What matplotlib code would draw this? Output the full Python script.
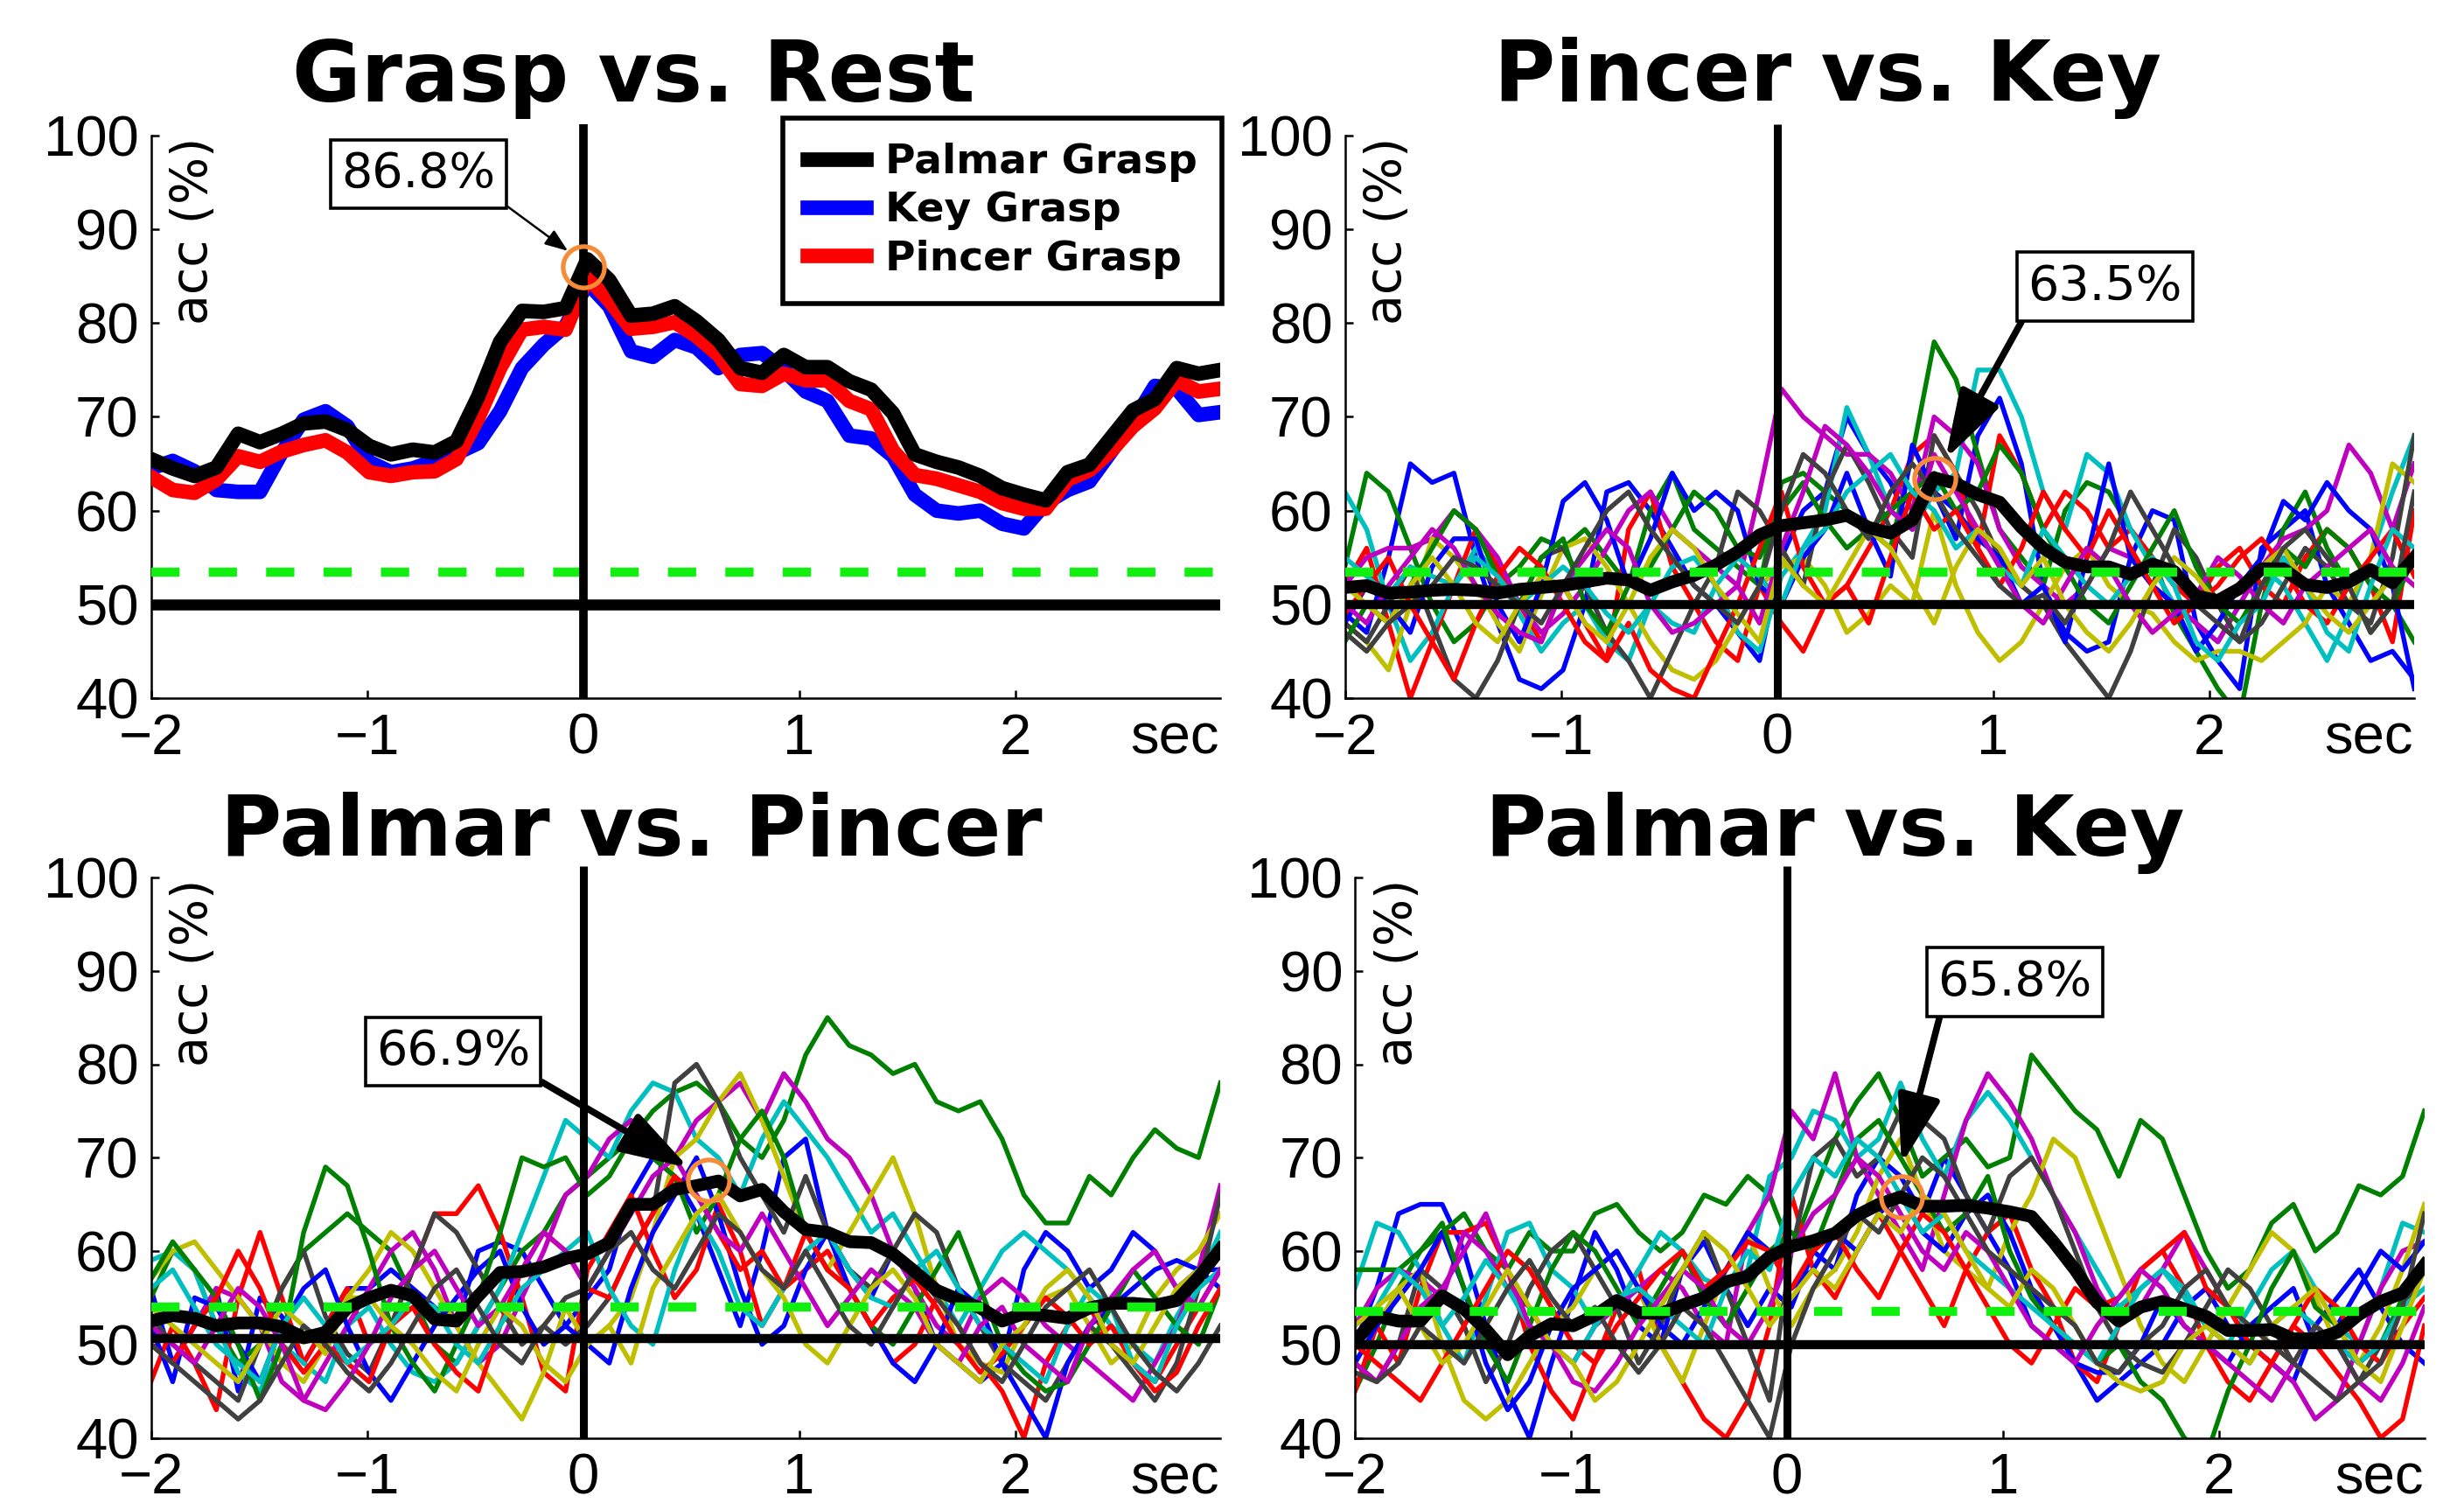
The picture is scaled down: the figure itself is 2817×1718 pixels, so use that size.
import numpy as np
import matplotlib
matplotlib.use("Agg")
import matplotlib.pyplot as plt

plt.rcParams['font.family'] = ['Liberation Sans', 'DejaVu Sans']
plt.rcParams['axes.unicode_minus'] = True

W, H = 2817, 1718
fig = plt.figure(figsize=(W / 100, H / 100), dpi=100)

# ---------------- data ----------------
t = np.linspace(-2.0, 2.95, 50)          # seconds
xticks = [-2, -1, 0, 1, 2]
yticks = [40, 50, 60, 70, 80, 90, 100]

# Grasp vs. Rest
palmar_grasp = [65.5, 64.5, 63.7, 64.6, 68.2, 67.3, 68.2, 69.3, 69.5, 68.6,
                66.9, 66.0, 66.5, 66.2, 67.4, 72.2, 78.0, 81.3, 81.2, 81.6,
                86.8, 84.6, 80.8, 81.0, 81.8, 80.2, 78.2, 75.2, 74.7, 76.6,
                75.3, 75.3, 73.8, 72.9, 70.4, 66.0, 65.2, 64.6, 63.7, 62.4,
                61.7, 61.1, 64.1, 64.9, 67.8, 70.7, 71.9, 75.2, 74.6, 75.0]
key_grasp = [64.5, 65.3, 64.2, 62.2, 62.0, 62.0, 66.2, 69.7, 70.6, 69.0,
             65.2, 64.1, 64.5, 65.3, 66.1, 67.2, 70.6, 75.2, 77.7, 79.7,
             84.3, 81.8, 77.0, 76.4, 78.2, 77.4, 75.2, 76.6, 76.8, 75.0,
             72.7, 71.7, 68.0, 67.7, 65.8, 61.7, 60.0, 59.7, 60.0, 58.6,
             58.1, 60.8, 62.2, 63.1, 66.3, 69.5, 73.3, 73.0, 70.2, 70.5]
pincer_grasp = [63.6, 62.2, 61.9, 63.3, 65.8, 65.2, 66.3, 67.0, 67.5, 66.2,
                64.1, 63.7, 64.1, 64.2, 65.5, 69.9, 75.2, 79.3, 79.6, 79.3,
                84.9, 82.4, 79.4, 79.6, 80.1, 78.6, 76.6, 73.5, 73.3, 74.6,
                73.9, 73.9, 71.7, 70.8, 66.4, 63.8, 63.4, 62.7, 62.0, 60.8,
                60.2, 60.2, 63.3, 64.3, 66.4, 69.0, 70.9, 73.9, 72.7, 73.0]

# Pincer vs. Key
pincer_key_mean = [51.8, 52.0, 51.2, 51.3, 51.5, 51.6, 51.5, 51.2, 51.6, 51.8,
                   52.0, 52.4, 52.8, 52.6, 51.5, 52.4, 53.1, 54.2, 55.6, 57.4,
                   58.4, 58.7, 59.0, 59.5, 58.2, 57.6, 59.0, 63.5, 62.9, 61.7,
                   60.9, 58.2, 56.0, 54.5, 54.0, 54.0, 53.2, 54.3, 53.5, 50.9,
                   50.4, 51.7, 53.8, 53.8, 52.1, 51.8, 52.4, 53.7, 52.3, 55.0]
pincer_key_subjects = [
    [49, 47, 55, 65, 63, 64, 55, 48, 42, 41, 43, 50, 62, 63, 60, 56, 52, 50, 47, 44,
     55, 60, 62, 70, 66, 63, 58, 62, 57, 68, 72, 65, 52, 47, 45, 46, 55, 60, 59, 48,
     44, 41, 56, 58, 60, 52, 48, 44, 45, 42],
    [54, 64, 62, 56, 50, 46, 48, 52, 54, 57, 56, 58, 55, 52, 60, 64, 58, 56, 54, 52,
     63, 64, 62, 60, 58, 56, 66, 78, 74, 66, 58, 55, 52, 60, 63, 62, 58, 55, 49, 45,
     41, 38, 50, 58, 62, 56, 52, 47, 50, 46],
    [52, 56, 48, 40, 46, 52, 58, 54, 50, 46, 52, 48, 44, 58, 62, 54, 50, 46, 44, 52,
     48, 45, 50, 52, 56, 60, 66, 68, 64, 56, 68, 64, 58, 62, 60, 56, 58, 55, 52, 50,
     54, 56, 52, 50, 55, 58, 56, 52, 46, 60],
    [62, 58, 50, 44, 47, 52, 56, 53, 49, 45, 48, 50, 46, 44, 50, 54, 55, 52, 47, 45,
     53, 56, 60, 71, 66, 60, 58, 62, 64, 75, 75, 70, 62, 58, 66, 64, 58, 54, 50, 48,
     46, 50, 54, 52, 48, 44, 49, 55, 62, 68],
    [52, 55, 56, 56, 57, 60, 58, 55, 50, 47, 49, 52, 56, 60, 62, 58, 56, 54, 52, 62,
     73, 70, 68, 66, 66, 64, 60, 70, 68, 65, 58, 54, 52, 50, 52, 56, 55, 52, 50, 48,
     46, 50, 54, 57, 58, 60, 67, 64, 58, 65],
    [48, 46, 43, 50, 57, 55, 52, 48, 45, 51, 56, 57, 54, 50, 46, 43, 42, 44, 48, 52,
     54, 55, 52, 47, 49, 52, 50, 60, 52, 47, 44, 46, 50, 54, 56, 52, 50, 49, 46, 44,
     45, 45, 44, 46, 48, 52, 50, 55, 65, 63],
    [48, 46, 50, 54, 48, 42, 40, 44, 50, 55, 56, 52, 47, 44, 40, 45, 50, 54, 62, 60,
     56, 52, 62, 67, 63, 58, 55, 68, 64, 60, 55, 52, 50, 46, 43, 40, 45, 52, 58, 55,
     50, 46, 48, 52, 56, 54, 50, 48, 55, 68],
    [48, 52, 50, 47, 54, 57, 57, 50, 46, 52, 61, 63, 59, 52, 57, 64, 60, 62, 60, 52,
     50, 55, 58, 64, 58, 53, 67, 62, 60, 57, 55, 50, 52, 46, 55, 65, 55, 52, 50, 45,
     48, 52, 55, 61, 59, 63, 60, 58, 52, 41],
    [46, 50, 48, 52, 56, 60, 58, 53, 50, 55, 57, 50, 47, 52, 54, 58, 62, 60, 56, 55,
     60, 63, 59, 56, 58, 60, 62, 64, 60, 62, 67, 64, 58, 54, 50, 48, 52, 56, 60, 54,
     50, 48, 52, 56, 54, 58, 56, 52, 50, 55],
    [49, 52, 55, 50, 46, 42, 48, 53, 56, 54, 50, 46, 44, 48, 43, 41, 40, 45, 50, 56,
     62, 54, 50, 52, 48, 55, 62, 58, 60, 56, 52, 56, 62, 58, 55, 60, 56, 52, 48, 50,
     52, 55, 57, 54, 50, 48, 52, 55, 58, 53],
    [55, 53, 51, 54, 53, 52, 55, 53, 50, 52, 54, 52, 49, 47, 50, 48, 47, 52, 55, 53,
     50, 56, 58, 62, 64, 66, 62, 60, 56, 58, 54, 52, 58, 55, 52, 50, 53, 55, 52, 46,
     44, 48, 50, 55, 52, 47, 45, 52, 58, 56],
    [50, 48, 52, 55, 58, 56, 52, 49, 47, 46, 52, 55, 58, 56, 50, 47, 48, 50, 52, 48,
     56, 62, 69, 67, 64, 60, 58, 66, 62, 58, 54, 50, 48, 52, 56, 54, 50, 47, 49, 51,
     55, 53, 50, 48, 52, 54, 56, 58, 54, 52],
    [52, 50, 48, 52, 55, 52, 48, 46, 50, 53, 52, 48, 46, 50, 55, 58, 56, 52, 49, 46,
     55, 52, 50, 54, 58, 56, 52, 48, 54, 58, 56, 52, 55, 50, 47, 45, 48, 52, 55, 53,
     50, 52, 54, 56, 52, 49, 47, 50, 53, 55],
    [47, 45, 48, 50, 52, 55, 54, 52, 50, 48, 52, 56, 60, 62, 58, 55, 52, 50, 48, 52,
     60, 66, 64, 60, 57, 62, 65, 62, 58, 55, 52, 50, 51, 48, 52, 56, 62, 58, 54, 50,
     48, 46, 52, 56, 58, 55, 52, 47, 50, 62],
]

# Palmar vs. Pincer
palmar_pincer_mean = [52.5, 53.1, 52.8, 52.0, 52.3, 52.3, 51.9, 50.7, 51.3, 53.9,
                      55.0, 55.8, 55.2, 52.7, 52.5, 55.2, 57.7, 57.8, 58.3, 59.2,
                      59.7, 60.9, 65.0, 65.0, 66.6, 67.0, 67.5, 65.9, 66.6, 64.2,
                      62.3, 62.0, 61.0, 60.9, 59.7, 57.8, 55.8, 54.8, 53.9, 52.5,
                      53.3, 53.1, 52.8, 53.9, 54.4, 54.4, 54.2, 54.7, 57.2, 60.2]
palmar_pincer_subjects = [
    [56, 48, 52, 56, 45, 55, 53, 48, 52, 56, 56, 58, 56, 54, 52, 60, 61, 60, 56, 52,
     55, 58, 66, 70, 68, 64, 58, 52, 60, 70, 72, 62, 58, 55, 60, 56, 50, 48, 46, 48,
     58, 62, 60, 56, 58, 62, 60, 56, 58, 58],
    [55, 60, 58, 52, 48, 50, 56, 60, 62, 64, 62, 60, 55, 50, 48, 52, 56, 60, 62, 66,
     68, 70, 72, 75, 77, 78, 76, 72, 70, 74, 81, 85, 82, 81, 79, 80, 76, 75, 76, 72,
     66, 63, 63, 68, 66, 70, 73, 71, 70, 78],
    [46, 52, 48, 43, 55, 62, 55, 48, 52, 56, 50, 52, 58, 64, 64, 67, 62, 55, 47, 45,
     58, 62, 66, 60, 55, 58, 65, 60, 52, 56, 58, 60, 56, 52, 48, 50, 55, 52, 48, 45,
     40, 48, 52, 54, 50, 48, 46, 50, 54, 58],
    [59, 60, 58, 52, 47, 45, 50, 48, 46, 52, 54, 50, 47, 46, 48, 52, 56, 62, 68, 74,
     72, 70, 75, 78, 77, 72, 70, 66, 72, 76, 73, 70, 66, 62, 64, 60, 56, 52, 56, 60,
     62, 60, 58, 55, 52, 50, 48, 53, 57, 62],
    [50, 48, 52, 56, 55, 52, 46, 44, 48, 52, 56, 60, 62, 58, 52, 48, 50, 55, 60, 66,
     68, 72, 74, 72, 70, 74, 76, 78, 74, 79, 76, 72, 70, 66, 60, 56, 52, 50, 55, 57,
     55, 52, 50, 48, 46, 44, 48, 52, 58, 67],
    [57, 60, 61, 58, 55, 52, 48, 46, 50, 55, 58, 62, 60, 56, 52, 48, 45, 42, 47, 54,
     50, 52, 55, 62, 70, 72, 76, 79, 74, 68, 62, 58, 62, 66, 70, 64, 56, 50, 48, 47,
     52, 55, 56, 52, 48, 50, 55, 58, 60, 64],
    [53, 50, 48, 46, 44, 50, 56, 60, 53, 49, 47, 52, 58, 64, 62, 58, 54, 50, 52, 50,
     52, 55, 60, 64, 78, 80, 76, 70, 66, 62, 68, 62, 58, 56, 60, 64, 62, 56, 52, 48,
     46, 44, 48, 52, 50, 47, 44, 48, 56, 66],
    [52, 46, 55, 54, 50, 46, 52, 56, 58, 52, 47, 44, 48, 52, 55, 58, 60, 54, 50, 52,
     50, 48, 56, 62, 66, 70, 64, 56, 50, 52, 58, 62, 56, 52, 48, 46, 50, 56, 54, 48,
     44, 40, 48, 52, 54, 56, 58, 59, 58, 56],
    [57, 61, 58, 55, 50, 44, 50, 62, 69, 67, 60, 52, 48, 45, 50, 55, 62, 70, 69, 70,
     66, 68, 72, 70, 68, 62, 66, 72, 75, 70, 62, 58, 56, 52, 50, 54, 58, 62, 56, 50,
     47, 45, 46, 50, 54, 58, 55, 52, 50, 56],
    [50, 48, 52, 55, 60, 56, 50, 47, 50, 48, 46, 52, 54, 50, 47, 45, 52, 58, 62, 60,
     56, 55, 60, 64, 68, 66, 62, 58, 60, 56, 62, 58, 56, 52, 55, 57, 54, 50, 47, 49,
     52, 55, 53, 50, 52, 48, 45, 47, 52, 56],
    [56, 58, 54, 50, 48, 46, 52, 55, 52, 48, 50, 52, 55, 54, 50, 48, 52, 56, 58, 60,
     62, 56, 52, 50, 58, 64, 60, 54, 52, 56, 60, 62, 58, 55, 54, 58, 60, 56, 52, 50,
     48, 46, 52, 56, 54, 48, 46, 52, 56, 58],
    [52, 50, 48, 52, 56, 54, 50, 44, 43, 46, 50, 55, 58, 60, 56, 52, 54, 58, 62, 60,
     56, 60, 64, 68, 70, 66, 62, 60, 64, 60, 56, 52, 55, 58, 56, 54, 50, 48, 52, 54,
     50, 48, 46, 52, 55, 58, 60, 56, 54, 58],
    [54, 52, 50, 48, 46, 50, 54, 52, 49, 55, 55, 52, 50, 47, 45, 50, 54, 52, 48, 46,
     50, 52, 48, 56, 60, 64, 66, 62, 58, 55, 50, 48, 52, 56, 58, 55, 50, 48, 46, 50,
     52, 56, 58, 55, 50, 48, 52, 56, 58, 60],
    [50, 48, 46, 44, 42, 44, 48, 52, 50, 47, 45, 48, 52, 56, 58, 54, 50, 48, 52, 55,
     56, 60, 62, 58, 56, 60, 64, 62, 58, 56, 60, 56, 52, 50, 54, 58, 55, 52, 48, 46,
     50, 54, 56, 58, 54, 50, 47, 45, 48, 52],
]

# Palmar vs. Key
palmar_key_mean = [50.3, 53.0, 52.5, 52.5, 55.2, 53.8, 51.6, 48.9, 50.9, 52.2,
                   52.0, 53.1, 54.7, 53.4, 53.3, 54.2, 55.0, 56.7, 57.3, 59.4,
                   60.5, 61.1, 61.9, 63.8, 65.0, 65.8, 64.8, 64.8, 64.9, 64.6,
                   64.2, 63.7, 61.0, 58.0, 54.5, 52.5, 54.0, 54.6, 53.8, 53.0,
                   51.5, 51.5, 51.6, 50.6, 50.6, 51.3, 53.2, 54.6, 55.5, 58.5]
palmar_key_subjects = [
    [50, 56, 64, 65, 65, 60, 52, 45, 40, 48, 55, 62, 58, 52, 50, 58, 61, 56, 52, 56,
     54, 60, 58, 66, 70, 68, 64, 70, 66, 62, 58, 52, 50, 48, 44, 46, 48, 50, 54, 56,
     52, 50, 48, 46, 52, 55, 58, 54, 50, 48],
    [45, 50, 56, 60, 62, 64, 60, 58, 62, 60, 60, 64, 65, 62, 60, 62, 66, 65, 68, 66,
     60, 66, 72, 76, 79, 74, 68, 70, 72, 69, 70, 81, 78, 75, 73, 68, 74, 72, 66, 60,
     56, 58, 63, 65, 60, 62, 67, 66, 68, 75],
    [45, 52, 48, 56, 62, 62, 63, 58, 50, 45, 42, 48, 54, 58, 50, 46, 42, 40, 44, 52,
     66, 58, 55, 60, 64, 60, 56, 52, 58, 62, 64, 58, 54, 48, 46, 52, 58, 60, 56, 50,
     46, 44, 48, 52, 50, 47, 44, 40, 42, 52],
    [56, 63, 62, 58, 52, 48, 55, 62, 63, 58, 56, 52, 54, 58, 62, 60, 57, 56, 58, 68,
     70, 75, 74, 70, 72, 78, 72, 68, 74, 77, 74, 70, 66, 62, 58, 54, 56, 58, 56, 52,
     50, 54, 58, 60, 56, 52, 50, 56, 63, 62],
    [52, 56, 58, 57, 55, 62, 60, 56, 54, 50, 48, 52, 54, 56, 58, 56, 52, 50, 62, 66,
     75, 72, 79, 70, 66, 62, 58, 66, 74, 79, 76, 72, 66, 62, 56, 52, 54, 58, 62, 58,
     54, 50, 48, 46, 42, 44, 50, 56, 60, 61],
    [48, 52, 56, 58, 50, 44, 42, 44, 48, 52, 54, 58, 60, 56, 50, 46, 52, 58, 62, 56,
     52, 56, 58, 62, 68, 72, 66, 60, 58, 56, 62, 66, 72, 70, 64, 58, 52, 48, 46, 50,
     54, 58, 62, 60, 55, 50, 48, 52, 58, 65],
    [48, 46, 50, 58, 56, 52, 46, 50, 56, 60, 62, 58, 54, 48, 52, 58, 62, 56, 50, 44,
     60, 70, 72, 68, 70, 75, 74, 72, 66, 62, 68, 70, 66, 60, 54, 50, 48, 47, 50, 54,
     58, 56, 52, 48, 46, 44, 46, 50, 54, 58],
    [48, 52, 55, 58, 62, 56, 48, 43, 46, 52, 56, 58, 60, 56, 52, 50, 54, 58, 62, 60,
     56, 58, 62, 60, 64, 66, 62, 60, 64, 66, 62, 56, 52, 48, 47, 47, 50, 55, 52, 50,
     48, 52, 54, 56, 50, 52, 56, 60, 58, 61],
    [58, 58, 58, 60, 63, 56, 50, 46, 52, 58, 62, 60, 56, 52, 56, 60, 55, 52, 56, 60,
     62, 60, 66, 72, 74, 70, 66, 62, 64, 68, 60, 55, 52, 50, 48, 50, 46, 44, 40, 38,
     45, 50, 56, 60, 54, 52, 48, 50, 55, 58],
    [50, 48, 46, 44, 48, 52, 56, 60, 58, 54, 50, 48, 52, 55, 58, 60, 56, 58, 61, 60,
     56, 60, 62, 58, 55, 60, 64, 62, 58, 54, 50, 48, 52, 56, 54, 55, 58, 60, 62, 56,
     54, 50, 48, 52, 56, 54, 50, 48, 52, 55],
    [50, 54, 58, 56, 52, 55, 59, 56, 52, 50, 48, 52, 55, 56, 54, 52, 50, 56, 60, 58,
     66, 70, 68, 72, 70, 66, 62, 64, 60, 58, 56, 54, 52, 50, 48, 52, 56, 58, 55, 52,
     50, 48, 52, 54, 52, 50, 48, 50, 54, 56],
    [48, 46, 50, 54, 56, 60, 64, 58, 52, 50, 46, 45, 48, 52, 55, 58, 56, 52, 50, 54,
     60, 64, 66, 70, 68, 64, 60, 58, 62, 60, 56, 52, 50, 48, 52, 55, 58, 56, 52, 50,
     48, 46, 44, 48, 52, 50, 46, 44, 48, 54],
    [52, 54, 56, 52, 48, 50, 54, 58, 54, 50, 48, 44, 46, 50, 54, 58, 62, 60, 56, 52,
     55, 58, 56, 60, 64, 62, 66, 64, 60, 56, 54, 58, 56, 52, 48, 46, 45, 46, 50, 52,
     50, 48, 52, 54, 56, 52, 48, 46, 52, 58],
    [47, 46, 48, 52, 50, 48, 52, 56, 59, 55, 52, 54, 50, 47, 50, 54, 52, 48, 44, 40,
     50, 56, 60, 64, 62, 66, 70, 68, 64, 60, 58, 56, 54, 52, 48, 47, 50, 52, 56, 58,
     54, 52, 50, 48, 52, 50, 46, 48, 54, 64],
]

panel_titles = ['Grasp vs. Rest', 'Pincer vs. Key', 'Palmar vs. Pincer', 'Palmar vs. Key']
chance_level = [50.0, 50.0, 50.6, 50.0]
signif_level = [53.4, 53.4, 54.0, 53.5]
peak_t = [0.0, 0.73, 0.58, 0.53]
peak_val = [86.0, 63.4, 67.6, 65.8]
peak_text = ['86.8%', '63.5%', '66.9%', '65.8%']

# ---------------- styling / layout ----------------
subject_colors = [(0, 0, 1), (0, 0.5, 0), (1, 0, 0), (0, 0.75, 0.75),
                  (0.75, 0, 0.75), (0.75, 0.75, 0), (0.25, 0.25, 0.25)]
orange = (0.97, 0.55, 0.22)
lime = (0.06, 0.94, 0.06)

axes_pos = [[172.5, 798.0, 1222.7, 643.0],
            [1537.5, 798.0, 1222.7, 643.0],
            [172.5, 1643.5, 1222.7, 640.5],
            [1549.0, 1643.5, 1222.7, 640.5]]
title_xy = [(724.6, 116), (2089, 115), (721.4, 977.6), (2097.7, 977.6)]
box_xy = [(478.5, 199), (2406.7, 327.5), (518, 1202), (2303.7, 1122.7)]
box_relpos = [(1, 0), (0, 0), (1, 0), (0.03, 0)]
tip_xy = [(-0.07, 87.7), (0.78, 65.5), (0.49, 68.9), (0.53, 69.3)]

axes = []
for k in range(4):
    l, b, w, h = axes_pos[k]
    ax = fig.add_axes([l / W, 1 - b / H, w / W, h / H])
    axes.append(ax)
    ax.set_xlim(-2, 2.95)
    ax.set_ylim(40, 100)
    for s in ['top', 'right']:
        ax.spines[s].set_visible(False)
    for s in ['left', 'bottom']:
        ax.spines[s].set_linewidth(1.8)
    ax.set_xticks(xticks)
    ax.set_yticks(yticks)
    ax.tick_params(direction='in', length=6.5, width=1.8, labelsize=47)
    ax.tick_params(axis='x', pad=12)
    ax.tick_params(axis='y', pad=10)
    ax.annotate('sec', xy=(2.74, 0), xycoords=('data', 'axes fraction'),
                xytext=(0, -12), textcoords='offset points',
                ha='center', va='top', fontsize=47)
    ax.text(-1.80, 99.8, 'acc (%)', rotation=90, ha='center', va='top',
            fontsize=41, family='DejaVu Sans')
    fig.text(title_xy[k][0] / W, 1 - title_xy[k][1] / H, panel_titles[k],
             ha='center', va='baseline', fontsize=69, fontweight='bold',
             family='DejaVu Sans')

# Panel 1: grasp vs rest
ax = axes[0]
h_key, = ax.plot(t, key_grasp, color=(0, 0, 1), lw=12, zorder=3)
h_pin, = ax.plot(t, pincer_grasp, color=(1, 0, 0), lw=12, zorder=3)
h_pal, = ax.plot(t, palmar_grasp, color='k', lw=12, zorder=4)
leg = ax.legend([h_pal, h_key, h_pin], ['Palmar Grasp', 'Key Grasp', 'Pincer Grasp'],
                loc='upper left', bbox_to_anchor=(895 / W, 1 - 135 / H),
                bbox_transform=fig.transFigure,
                prop=dict(family='DejaVu Sans', weight='bold', size=33.8),
                frameon=True, fancybox=False, edgecolor='k', framealpha=1,
                borderpad=0.6, handlelength=1.42, handletextpad=0.48,
                labelspacing=0.22, borderaxespad=0)
leg.get_frame().set_linewidth(4)

# Panels 2-4: subjects + mean
multi = [(1, pincer_key_subjects, pincer_key_mean),
         (2, palmar_pincer_subjects, palmar_pincer_mean),
         (3, palmar_key_subjects, palmar_key_mean)]
for k, subjects, mean in multi:
    ax = axes[k]
    for i, s in enumerate(subjects):
        ax.plot(t, s, color=subject_colors[i % 7], lw=3.9, zorder=2)
    ax.plot(t, mean, color='k', lw=10.5, zorder=4)

for k in range(4):
    ax = axes[k]
    lw_ch = 9 if k == 0 else 7.5
    ax.plot([-2, 2.95], [chance_level[k]] * 2, color='k', lw=lw_ch, zorder=5,
            solid_capstyle='butt')
    ax.plot([-2, 2.95], [signif_level[k]] * 2, color=lime, lw=7.5, zorder=5,
            dashes=(3.1, 3.2), dash_capstyle='butt')
    ax.plot([0, 0], [40, 101.2], color='k', lw=7 if k == 0 else 6.5, zorder=6,
            clip_on=False, solid_capstyle='butt')
    ax.plot([peak_t[k]], [peak_val[k]], 'o', ms=34, mfc='none', mec=orange,
            mew=3.8, zorder=8)
    if k == 0:
        aprops = dict(arrowstyle='-|>,head_length=0.8,head_width=0.3',
                      mutation_scale=20, lw=1.8, color='k',
                      shrinkA=0, shrinkB=0, relpos=box_relpos[k])
    else:
        aprops = dict(arrowstyle='-|>,head_length=2.4,head_width=0.75',
                      mutation_scale=20, lw=5.5, color='k',
                      shrinkA=0, shrinkB=0, relpos=box_relpos[k])
    ax.annotate(peak_text[k], xy=tip_xy[k], xycoords='data',
                xytext=(box_xy[k][0], H - box_xy[k][1]), textcoords='figure pixels',
                ha='center', va='center', fontsize=40, family='DejaVu Sans',
                bbox=dict(boxstyle='square,pad=0.22', fc='white', ec='k', lw=2.6),
                arrowprops=aprops, annotation_clip=False, zorder=20)

fig.savefig('out.png', dpi=100)
